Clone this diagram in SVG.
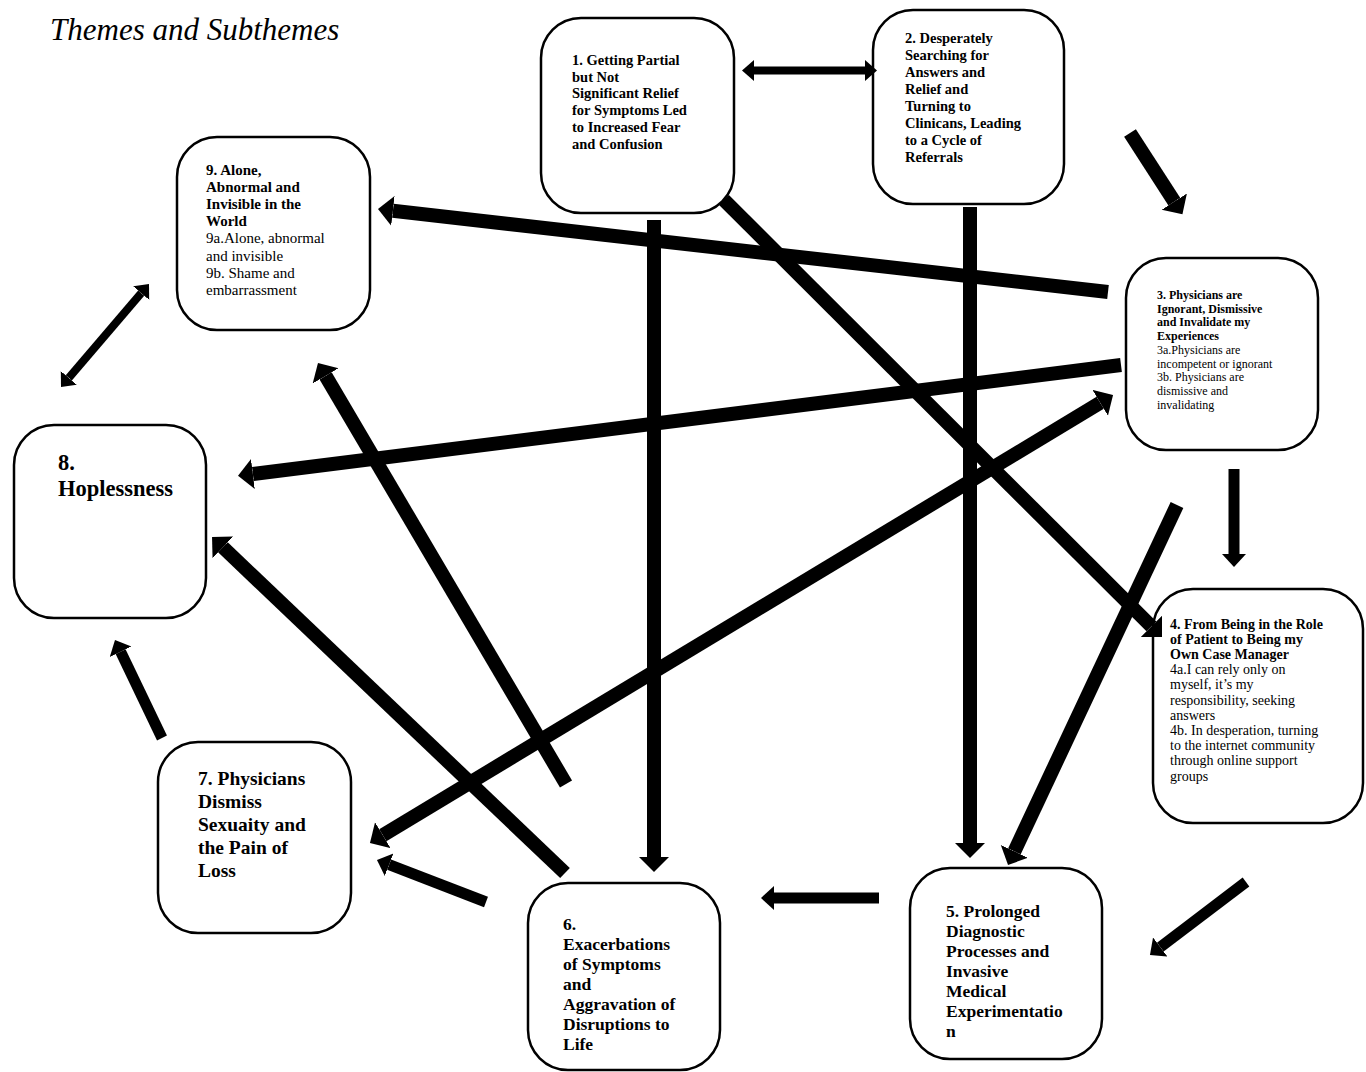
<svg xmlns="http://www.w3.org/2000/svg" width="1366" height="1072" viewBox="0 0 1366 1072">
<style>
.box{fill:#fff;stroke:#000;stroke-width:2.5}
text{font-family:"Liberation Serif","Times New Roman",serif;fill:#000}
.b{font-weight:bold}
.t1{font-size:14.5px}
.t9{font-size:15px}
.t3{font-size:12px}
.t4{font-size:14px}
.t5{font-size:17.5px}
.t7{font-size:19.5px}
.t8{font-size:22.5px}
.title{font-size:31px;font-style:italic}
.c{stroke:#000;fill:none;stroke-linecap:butt}
.big{stroke-width:14}
.med{stroke-width:11}
.thin{stroke-width:8}
</style>
<defs>
<marker id="hb" markerUnits="userSpaceOnUse" markerWidth="16" markerHeight="31" refX="0" refY="15" orient="auto-start-reverse"><path d="M0,0 L15,15 L0,30 Z" fill="#000"/></marker>
<marker id="hm" markerUnits="userSpaceOnUse" markerWidth="14" markerHeight="25" refX="0" refY="12" orient="auto-start-reverse"><path d="M0,0 L13,12 L0,24 Z" fill="#000"/></marker>
<marker id="ht" markerUnits="userSpaceOnUse" markerWidth="13" markerHeight="22" refX="0" refY="10.5" orient="auto-start-reverse"><path d="M0,0 L12,10.5 L0,21 Z" fill="#000"/></marker>
</defs>
<rect width="1366" height="1072" fill="#fff"/>
<text class="title" x="50" y="40">Themes and Subthemes</text>

<g id="node1">
<rect class="box" x="541" y="18" width="193" height="195" rx="40"/>
<text class="b t1" x="572" y="65">1. Getting Partial</text>
<text class="b t1" x="572" y="81.7">but Not</text>
<text class="b t1" x="572" y="98.4">Significant Relief</text>
<text class="b t1" x="572" y="115.1">for Symptoms Led</text>
<text class="b t1" x="572" y="131.8">to Increased Fear</text>
<text class="b t1" x="572" y="148.5">and Confusion</text>
</g>

<g id="node2">
<rect class="box" x="873" y="10" width="191" height="194" rx="40"/>
<text class="b t1" x="905" y="42.5">2. Desperately</text>
<text class="b t1" x="905" y="59.5">Searching for</text>
<text class="b t1" x="905" y="76.5">Answers and</text>
<text class="b t1" x="905" y="93.5">Relief and</text>
<text class="b t1" x="905" y="110.5">Turning to</text>
<text class="b t1" x="905" y="127.5">Clinicans, Leading</text>
<text class="b t1" x="905" y="144.5">to a Cycle of</text>
<text class="b t1" x="905" y="161.5">Referrals</text>
</g>

<g id="node3">
<rect class="box" x="1126" y="258" width="192" height="192" rx="40"/>
<text class="b t3" x="1157" y="299">3. Physicians are</text>
<text class="b t3" x="1157" y="312.7">Ignorant, Dismissive</text>
<text class="b t3" x="1157" y="326.4">and Invalidate my</text>
<text class="b t3" x="1157" y="340.1">Experiences</text>
<text class="t3" x="1157" y="353.8">3a.Physicians are</text>
<text class="t3" x="1157" y="367.5">incompetent or ignorant</text>
<text class="t3" x="1157" y="381.2">3b. Physicians are</text>
<text class="t3" x="1157" y="394.9">dismissive and</text>
<text class="t3" x="1157" y="408.6">invalidating</text>
</g>

<g id="node4">
<rect class="box" x="1153" y="589" width="210" height="234" rx="40"/>
<text class="b t4" x="1170" y="628.5">4. From Being in the Role</text>
<text class="b t4" x="1170" y="643.7">of Patient to Being my</text>
<text class="b t4" x="1170" y="658.9">Own Case Manager</text>
<text class="t4" x="1170" y="674.1">4a.I can rely only on</text>
<text class="t4" x="1170" y="689.3">myself, it’s my</text>
<text class="t4" x="1170" y="704.5">responsibility, seeking</text>
<text class="t4" x="1170" y="719.7">answers</text>
<text class="t4" x="1170" y="734.9">4b. In desperation, turning</text>
<text class="t4" x="1170" y="750.1">to the internet community</text>
<text class="t4" x="1170" y="765.3">through online support</text>
<text class="t4" x="1170" y="780.5">groups</text>
</g>

<g id="node5">
<rect class="box" x="910" y="868" width="192" height="191" rx="40"/>
<text class="b t5" x="946" y="917">5. Prolonged</text>
<text class="b t5" x="946" y="937">Diagnostic</text>
<text class="b t5" x="946" y="957">Processes and</text>
<text class="b t5" x="946" y="977">Invasive</text>
<text class="b t5" x="946" y="997">Medical</text>
<text class="b t5" x="946" y="1017">Experimentatio</text>
<text class="b t5" x="946" y="1037">n</text>
</g>

<g id="node6">
<rect class="box" x="528" y="883" width="192" height="187" rx="40"/>
<text class="b t5" x="563" y="930">6.</text>
<text class="b t5" x="563" y="950">Exacerbations</text>
<text class="b t5" x="563" y="970">of Symptoms</text>
<text class="b t5" x="563" y="990">and</text>
<text class="b t5" x="563" y="1010">Aggravation of</text>
<text class="b t5" x="563" y="1030">Disruptions to</text>
<text class="b t5" x="563" y="1050">Life</text>
</g>

<g id="node7">
<rect class="box" x="158" y="742" width="193" height="191" rx="40"/>
<text class="b t7" x="198" y="785">7. Physicians</text>
<text class="b t7" x="198" y="808">Dismiss</text>
<text class="b t7" x="198" y="831">Sexuaity and</text>
<text class="b t7" x="198" y="854">the Pain of</text>
<text class="b t7" x="198" y="877">Loss</text>
</g>

<g id="node8">
<rect class="box" x="14" y="425" width="192" height="193" rx="40"/>
<text class="b t8" x="58" y="470">8.</text>
<text class="b t8" x="58" y="496">Hoplessness</text>
</g>

<g id="node9">
<rect class="box" x="177" y="137" width="193" height="193" rx="40"/>
<text class="b t9" x="206" y="174.5">9. Alone,</text>
<text class="b t9" x="206" y="191.7">Abnormal and</text>
<text class="b t9" x="206" y="208.9">Invisible in the</text>
<text class="b t9" x="206" y="226.1">World</text>
<text class="t9" x="206" y="243.3">9a.Alone, abnormal</text>
<text class="t9" x="206" y="260.5">and invisible</text>
<text class="t9" x="206" y="277.7">9b. Shame and</text>
<text class="t9" x="206" y="294.9">embarrassment</text>
</g>

<g id="connectors">
<line class="c thin" x1="754" y1="70.5" x2="865" y2="70.5" marker-start="url(#ht)" marker-end="url(#ht)"/>
<line class="c thin" x1="68.8" y1="377.9" x2="141.2" y2="293.1" marker-start="url(#ht)" marker-end="url(#ht)"/>
<line class="c big" x1="1130" y1="133" x2="1174.3" y2="201.6" marker-end="url(#hb)"/>
<line class="c big" x1="1108" y1="292" x2="392.9" y2="210.8" marker-end="url(#hb)"/>
<line class="c big" x1="1121" y1="365" x2="252.9" y2="474" marker-end="url(#hb)"/>
<line class="c med" x1="1234" y1="469" x2="1234" y2="554" marker-end="url(#hm)"/>
<line class="c big" x1="724" y1="200" x2="1151.4" y2="626.4" marker-end="url(#hb)"/>
<line class="c big" x1="970" y1="207" x2="970" y2="843" marker-end="url(#hb)"/>
<line class="c big" x1="654" y1="220" x2="654" y2="857" marker-end="url(#hb)"/>
<line class="c big" x1="1177" y1="505" x2="1014.4" y2="851.4" marker-end="url(#hb)"/>
<line class="c med" x1="879" y1="898" x2="774" y2="898" marker-end="url(#hm)"/>
<line class="c med" x1="1246" y1="882" x2="1160.3" y2="947.1" marker-end="url(#hm)"/>
<line class="c med" x1="486" y1="902" x2="389.1" y2="864.7" marker-end="url(#hm)"/>
<line class="c med" x1="162" y1="738" x2="120.6" y2="651.7" marker-end="url(#hm)"/>
<line class="c big" x1="566" y1="784" x2="325.6" y2="375.9" marker-end="url(#hb)"/>
<line class="c big" x1="565" y1="873" x2="222.9" y2="547.3" marker-end="url(#hb)"/>
<line class="c big" x1="382.8" y1="835.2" x2="1100.2" y2="402.8" marker-start="url(#hb)" marker-end="url(#hb)"/>
</g>
</svg>
